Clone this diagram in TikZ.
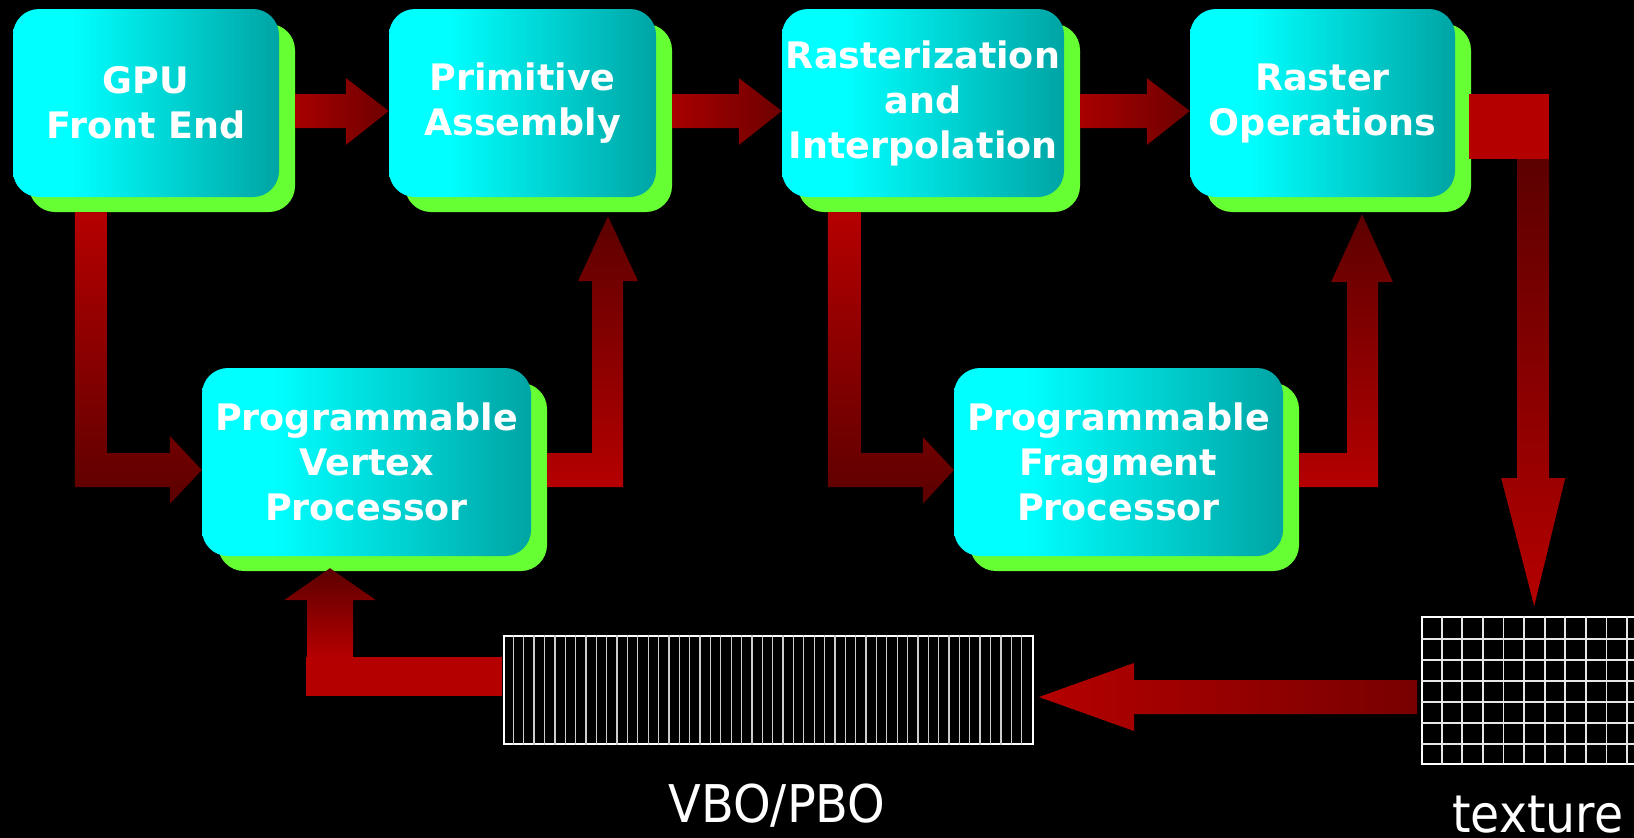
\documentclass[tikz,border=0pt]{standalone}
\usepackage{fontspec}
\setmainfont{DejaVu Sans}
\usetikzlibrary{shadows}

\definecolor{boxlight}{RGB}{0,255,255}
\definecolor{boxdark}{RGB}{0,164,164}
\definecolor{shadowgreen}{RGB}{102,255,51}
\definecolor{redbright}{RGB}{181,0,0}
\definecolor{reddark}{RGB}{92,0,0}
\definecolor{redmid}{RGB}{168,0,0}
\definecolor{redlow}{RGB}{110,0,0}
\definecolor{redfade}{RGB}{120,0,0}
\definecolor{gridline}{RGB}{230,230,230}
\definecolor{stripe}{RGB}{205,205,205}

% cyan-to-teal fill of the pipeline stages
\pgfdeclarehorizontalshading{boxshade}{100bp}{color(0bp)=(boxlight); color(36bp)=(boxlight); color(75bp)=(boxdark); color(100bp)=(boxdark)}

\tikzset{
  stage/.style={shade, shading=boxshade, rounded corners=26pt, inner sep=0pt,
    minimum height=188pt, text=white, align=center,
    font=\bfseries\fontsize{36.5}{45}\selectfont,
    drop shadow={shadow xshift=16pt, shadow yshift=-15pt, fill=shadowgreen, opacity=1}},
  buffer/.style={draw=white, line width=2pt, inner sep=0pt},
  stripeline/.style={stripe, line width=1.3pt},
  gridrule/.style={gridline, line width=1.8pt},
  caption/.style={text=white, inner sep=0pt, font=\fontsize{52}{60}\selectfont},
  flowright/.style={left color=redmid, right color=redlow},
  flowdown/.style={top color=redbright, bottom color=reddark},
  flowup/.style={top color=reddark, bottom color=redbright},
}

% horizontal block arrow from the shadow edge of one stage to the next stage
\newcommand\stagearrow[2]{%
  \shade[flowright] ([shift={(16,-9)}]#1.east) -- ([shift={(-43,-9)}]#2.west)
    -- ([shift={(-43,-25)}]#2.west) -- ([shift={(0,8)}]#2.west)
    -- ([shift={(-43,42)}]#2.west) -- ([shift={(-43,25)}]#2.west)
    -- ([shift={(16,25)}]#1.east) -- cycle;}

\begin{document}
\begin{tikzpicture}[x=1pt,y=-1pt]
\clip (0,0) rectangle (1634,838);
\fill[black] (0,0) rectangle (1634,838);

% buffers
\node[buffer, minimum width=529pt, minimum height=108pt] (vbo) at (768.5,690) {};
\foreach \i in {1,...,50}
  \draw[stripeline] ([xshift=\i*10.3725]vbo.south west) -- ([xshift=\i*10.3725]vbo.north west);

\node[buffer, minimum width=226.6pt, minimum height=147pt] (tex) at (1535.3,690.5) {};
\foreach \i in {1,...,10}
  \draw[gridrule] ([xshift=\i*20.6]tex.south west) -- ([xshift=\i*20.6]tex.north west);
\foreach \j in {1,...,6}
  \draw[gridrule] ([yshift=\j*21]tex.south west) -- ([yshift=\j*21]tex.south east);

% pipeline stages
\node[stage, minimum width=266pt] (gpu)  at (146,103)    {GPU\\Front End};
\node[stage, minimum width=267pt] (prim) at (522.5,103)  {Primitive\\Assembly};
\node[stage, minimum width=282pt] (rast) at (923,103)    {Rasterization\\and\\Interpolation};
\node[stage, minimum width=265pt] (rop)  at (1322.5,103) {Raster\\Operations};
\node[stage, minimum width=329pt] (vert) at (366.5,462)  {Programmable\\Vertex\\Processor};
\node[stage, minimum width=329pt] (frag) at (1118.5,462) {Programmable\\Fragment\\Processor};

% top row
\stagearrow{gpu}{prim}
\stagearrow{prim}{rast}
\stagearrow{rast}{rop}

% front end -> vertex processor
\shade[flowdown] ([shift={(62,15)}]gpu.south west) -- ([shift={(94,15)}]gpu.south west)
  -- ([shift={(-95,-9)}]vert.west) -- ([shift={(-32,-9)}]vert.west)
  -- ([shift={(-32,-26)}]vert.west) -- ([shift={(0,8)}]vert.west)
  -- ([shift={(-32,42)}]vert.west) -- ([shift={(-32,25)}]vert.west)
  -- ([shift={(-127,25)}]vert.west) -- cycle;

% rasterization -> fragment processor
\shade[flowdown] ([shift={(46,15)}]rast.south west) -- ([shift={(79,15)}]rast.south west)
  -- ([shift={(-93,-9)}]frag.west) -- ([shift={(-31,-9)}]frag.west)
  -- ([shift={(-31,-25)}]frag.west) -- ([shift={(0,8)}]frag.west)
  -- ([shift={(-31,42)}]frag.west) -- ([shift={(-31,25)}]frag.west)
  -- ([shift={(-126,25)}]frag.west) -- cycle;

% vertex processor -> primitive assembly
\shade[flowup] ([shift={(16,-9)}]vert.east) -- ([shift={(61,-9)}]vert.east)
  -- ([shift={(69.5,84)}]prim.south) -- ([shift={(55.5,84)}]prim.south)
  -- ([shift={(85.5,19)}]prim.south) -- ([shift={(115.5,84)}]prim.south)
  -- ([shift={(100.5,84)}]prim.south) -- ([shift={(92,25)}]vert.east)
  -- ([shift={(16,25)}]vert.east) -- cycle;

% fragment processor -> raster operations
\shade[flowup] ([shift={(16,-9)}]frag.east) -- ([shift={(64,-9)}]frag.east)
  -- ([shift={(24.5,85)}]rop.south) -- ([shift={(8.5,85)}]rop.south)
  -- ([shift={(39.5,17)}]rop.south) -- ([shift={(70.5,85)}]rop.south)
  -- ([shift={(55.5,85)}]rop.south) -- ([shift={(95,25)}]frag.east)
  -- ([shift={(16,25)}]frag.east) -- cycle;

% raster operations -> texture
\fill[redbright] ([shift={(14,-9)}]rop.east) rectangle ([shift={(94,56)}]rop.east);
\shade[flowup] ([shift={(62,56)}]rop.east) -- ([shift={(94,56)}]rop.east)
  -- ([shift={(94,375)}]rop.east) -- ([shift={(110,375)}]rop.east)
  -- ([shift={(79,503)}]rop.east) -- ([shift={(46,375)}]rop.east)
  -- ([shift={(62,375)}]rop.east) -- cycle;

% texture -> VBO/PBO
\shade[left color=redbright, right color=redfade] ([shift={(5,7)}]vbo.east)
  -- ([shift={(100,-27)}]vbo.east) -- ([shift={(100,-10)}]vbo.east)
  -- ([shift={(-4,-10.5)}]tex.west) -- ([shift={(-4,23.5)}]tex.west)
  -- ([shift={(100,24)}]vbo.east) -- ([shift={(100,41)}]vbo.east) -- cycle;

% VBO/PBO -> vertex processor
\fill[redbright] ([shift={(-197,-33)}]vbo.west) rectangle ([shift={(-1,6)}]vbo.west);
\shade[flowup] ([shift={(-59.5,101)}]vert.south) -- ([shift={(-59.5,44)}]vert.south)
  -- ([shift={(-82.5,44)}]vert.south) -- ([shift={(-36.5,12)}]vert.south)
  -- ([shift={(9.5,44)}]vert.south) -- ([shift={(-13.5,44)}]vert.south)
  -- ([shift={(-13.5,101)}]vert.south) -- cycle;

% captions
\node[caption, anchor=base] (vbolabel) at (777,822) {\scalebox{0.92}[1]{VBO/PBO}};
\node[caption, anchor=base west] (texlabel) at (1452,832) {\scalebox{0.91}[1]{texture}};
\end{tikzpicture}
\end{document}
